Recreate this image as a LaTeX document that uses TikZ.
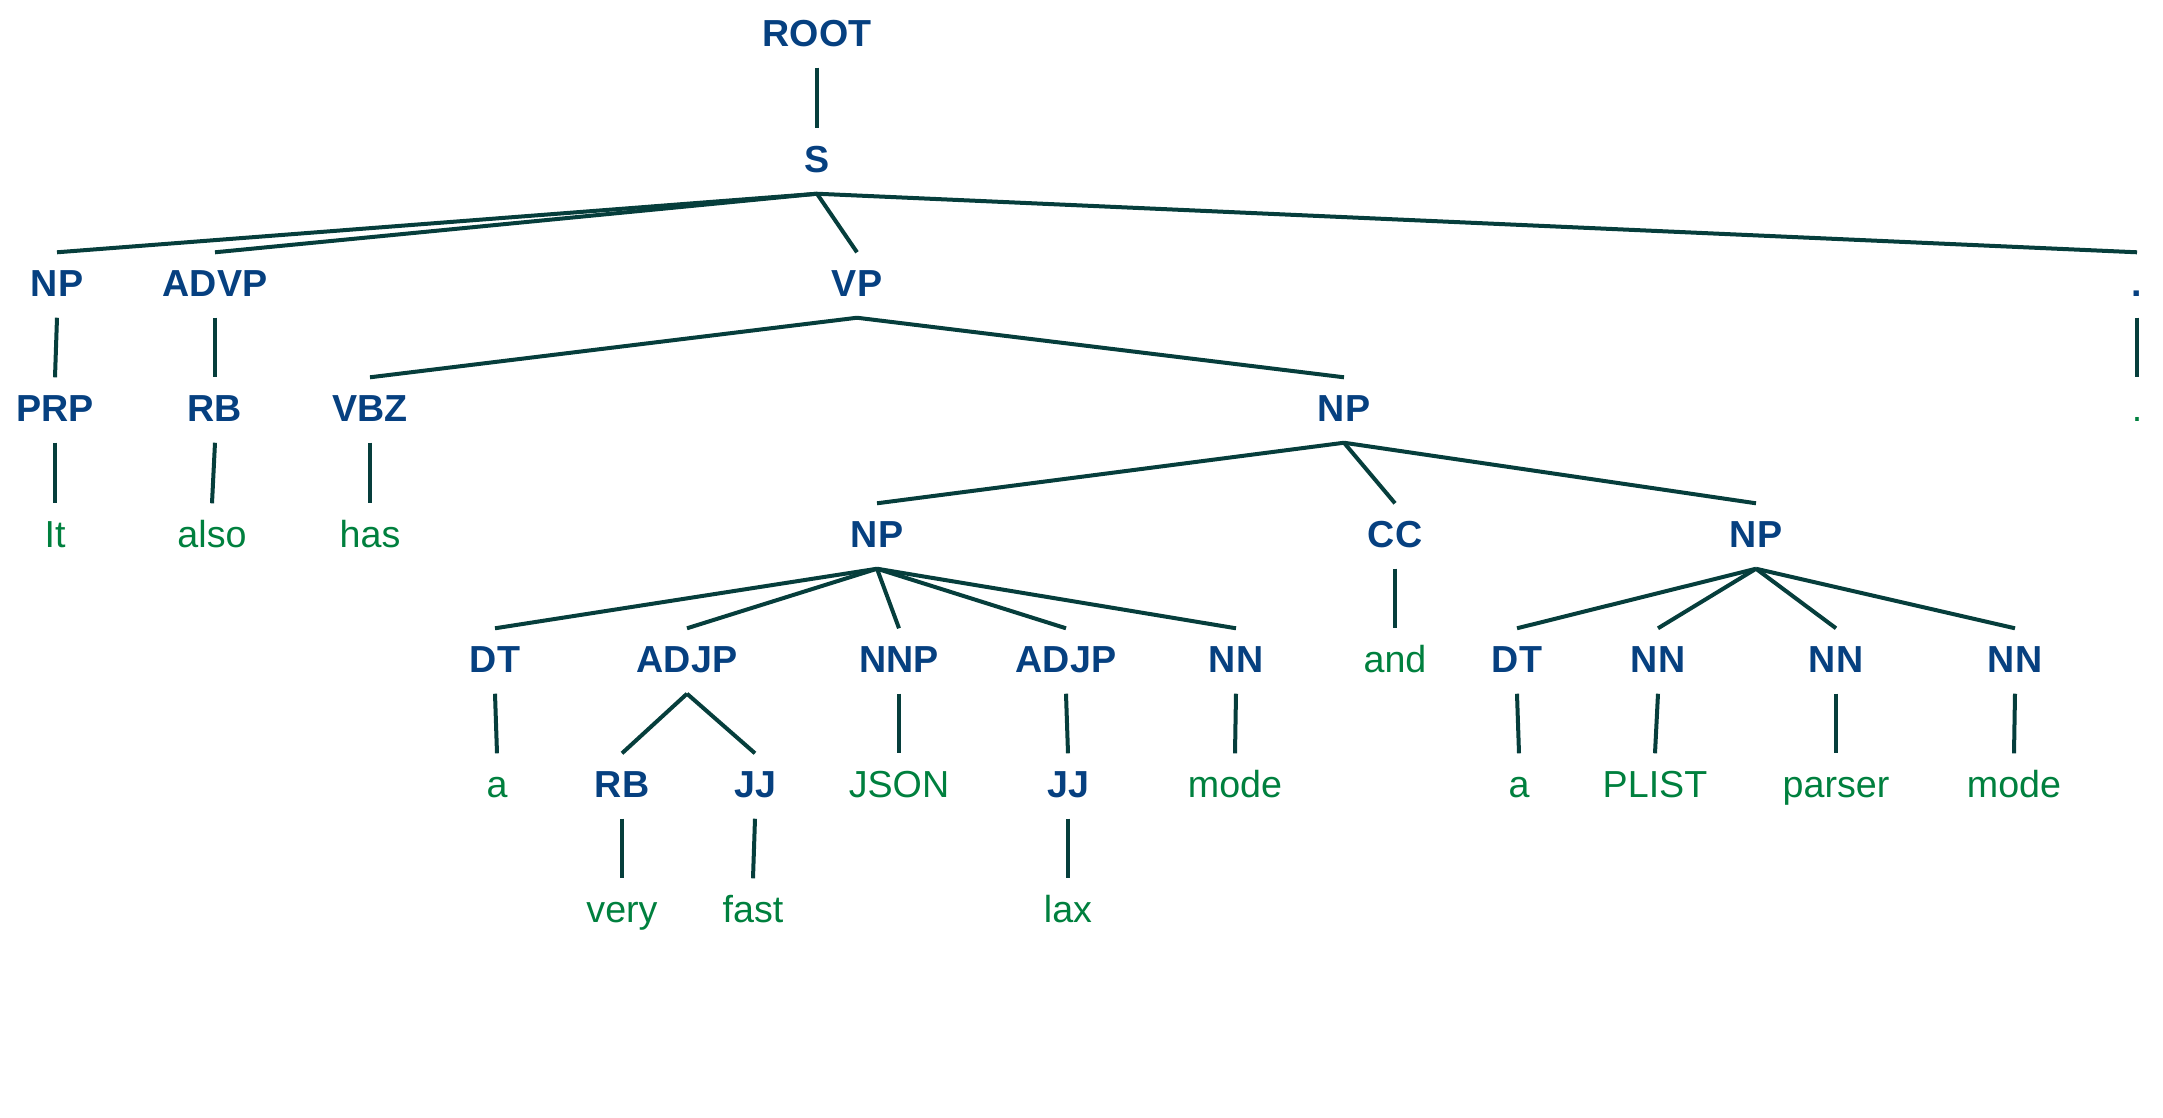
\documentclass[tikz,border=0pt]{standalone}
\usepackage{fontspec}
\setmainfont{Liberation Sans}
\definecolor{tagblue}{RGB}{6,64,128}
\definecolor{wordgreen}{RGB}{0,128,62}
\definecolor{edgecol}{RGB}{6,62,60}
\begin{document}
\begin{tikzpicture}[x=0.01cm,y=-0.01cm,
  lbl/.style={anchor=base,yshift=-1.35mm,inner xsep=0pt,inner ysep=0pt,
    text height=4.35mm,text depth=2.05mm,font=\fontsize{10.7pt}{12pt}\selectfont},
  tag/.style={lbl,text=tagblue,font=\fontsize{10.7pt}{12pt}\selectfont\bfseries},
  word/.style={lbl,text=wordgreen},
  edge/.style={draw=edgecol,line width=0.4mm}]
\useasboundingbox (0,0) rectangle (2163,1117);
\node[tag] (root) at (817,33) {ROOT};
\node[tag] (s) at (817,159) {S};
\node[tag] (np1) at (57,283) {NP};
\node[tag] (advp) at (215,283) {ADVP};
\node[tag] (vp) at (857,283) {VP};
\node[tag] (dot1) at (2137,283) {.};
\node[tag] (prp) at (55,408) {PRP};
\node[tag] (rb1) at (215,408) {RB};
\node[tag] (vbz) at (370,408) {VBZ};
\node[tag] (np2) at (1344,408) {NP};
\node[word] (dotw) at (2137,408) {.};
\node[word] (it) at (55,534) {It};
\node[word] (also) at (212,534) {also};
\node[word] (has) at (370,534) {has};
\node[tag] (np3) at (877,534) {NP};
\node[tag] (cc) at (1395,534) {CC};
\node[tag] (np4) at (1756,534) {NP};
\node[tag] (dt1) at (495,659) {DT};
\node[tag] (adjp1) at (687,659) {ADJP};
\node[tag] (nnp) at (899,659) {NNP};
\node[tag] (adjp2) at (1066,659) {ADJP};
\node[tag] (nn1) at (1236,659) {NN};
\node[word] (and) at (1395,659) {and};
\node[tag] (dt2) at (1517,659) {DT};
\node[tag] (nn2) at (1658,659) {NN};
\node[tag] (nn3) at (1836,659) {NN};
\node[tag] (nn4) at (2015,659) {NN};
\node[word] (a1) at (497,784) {a};
\node[tag] (rb2) at (622,784) {RB};
\node[tag] (jj1) at (755,784) {JJ};
\node[word] (json) at (899,784) {JSON};
\node[tag] (jj2) at (1068,784) {JJ};
\node[word] (mode1) at (1235,784) {mode};
\node[word] (a2) at (1519,784) {a};
\node[word] (plist) at (1655,784) {PLIST};
\node[word] (parser) at (1836,784) {parser};
\node[word] (mode2) at (2014,784) {mode};
\node[word] (very) at (622,909) {very};
\node[word] (fast) at (753,909) {fast};
\node[word] (lax) at (1068,909) {lax};
\foreach \p/\c in {root/s, s/np1, s/advp, s/vp, s/dot1, np1/prp, advp/rb1, vp/vbz, vp/np2,
  dot1/dotw, prp/it, rb1/also, vbz/has, np2/np3, np2/cc, np2/np4,
  np3/dt1, np3/adjp1, np3/nnp, np3/adjp2, np3/nn1, cc/and,
  np4/dt2, np4/nn2, np4/nn3, np4/nn4,
  dt1/a1, adjp1/rb2, adjp1/jj1, nnp/json, adjp2/jj2, nn1/mode1,
  dt2/a2, nn2/plist, nn3/parser, nn4/mode2,
  rb2/very, jj1/fast, jj2/lax}
  \draw[edge] (\p.south) -- (\c.north);
\end{tikzpicture}
\end{document}
